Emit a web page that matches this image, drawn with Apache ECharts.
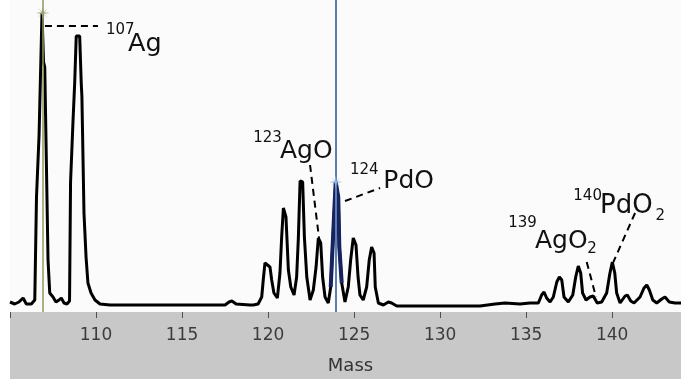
<!DOCTYPE html>
<html><head><meta charset="utf-8">
<script src="https://cdn.jsdelivr.net/npm/echarts@6/dist/echarts.min.js"></script>
<style>html,body{margin:0;padding:0;background:#ffffff}#c{width:681px;height:379px}</style>
</head><body><div id="c"></div>
<script>
// Spectrum (mass, intensity)
const masses = [105.0,105.27,105.52,105.76,105.95,106.24,106.44,106.48,106.54,106.63,106.69,106.77,106.86,106.95,107.02,107.11,107.21,107.31,107.38,107.50,107.67,107.85,107.98,108.14,108.31,108.46,
108.52,108.60,108.66,108.76,108.85,109.05,109.14,109.18,109.30,109.42,109.53,109.71,109.94,110.23,110.81,111.97,116.04,117.5,117.73,117.9,118.14,118.95,119.14,119.42,
119.63,119.73,119.82,120.11,120.21,120.34,120.54,120.69,120.79,120.89,121.04,121.18,121.32,121.51,121.66,121.76,121.86,122.01,122.11,122.25,122.44,122.63,122.79,122.92,123.06,123.17,123.31,123.50,
123.64,123.76,123.83,123.93,124.08,124.14,124.28,124.47,124.66,124.80,124.95,125.11,125.23,125.34,125.53,125.73,125.88,126.02,126.16,126.23,126.41,126.70,126.99,127.18,127.48,
132.32,133.19,133.77,134.64,135.22,135.71,135.90,136.04,136.19,136.39,136.58,136.78,136.93,137.07,137.20,137.45,137.71,137.88,138.03,138.17,138.28,138.48,138.71,138.90,139.13,139.39,139.68,139.87,140.01,140.15,140.26,140.46,140.75,140.88,141.08,141.27,141.62,141.85,142.01,142.16,142.36,142.59,142.88,143.07,143.32,143.65,144.0];
const intensities = [10,8,10,14,8,8,12,14,115,115,177,235,299,250,245,154,52,19,17,15,10,12,14,9,8,11,
130,130,190,229,276,276,229,215,99,55,29,19,12,8,7,7,7,7,10,11,8,7,7,8,
15,34,49,45,32,19,14,39,75,104,95,42,25,17,35,74,131,130,75,35,12,22,45,74,69,35,15,9,
25,69,95,130,115,65,29,10,25,52,74,67,35,17,12,25,52,65,59,25,9,7,10,9,6,
6,8,9,8,9,9,17,20,14,10,15,30,35,32,15,10,17,35,46,39,19,12,15,16,9,10,19,39,50,39,19,9,16,17,11,9,15,24,27,22,12,9,13,15,10,9,9];

const xTicks = [105,110,115,120,125,130,135,140];
const highlightRange = [123.55, 124.35];
const cursorMasses = [106.92, 123.95];
const starMasses = [106.9, 123.93];
const starInts = [299, 130];

const annoTexts = ['107','Ag','123','AgO','124','PdO','139','AgO','2','140','PdO','2'];
const annoMass  = [110.58,111.86,119.14,120.69,124.76,126.70,133.96,135.51,138.55,137.74,139.29,142.52];
const annoInt   = [282,268,174,161,142,131,89,71,63,115.5,106,95.5];
const annoSize  = [15,25.5,15,25,15,25,15,25,15,15,26,15];

const leaderFrom = [[107.03,286],[122.44,147],[124.47,111],[138.52,50],[141.33,99]];
const leaderTo   = [[110.11,286],[122.96,74],[126.51,124],[139.06,15],[140.07,50]];

const spectrum = masses.map((m,i)=>[m,intensities[i]]);
const highlight = spectrum.filter(p=>p[0]>=highlightRange[0]&&p[0]<=highlightRange[1]);

const starPath = 'path://M0,-7 L0.8,-0.8 L7,0 L0.8,0.8 L0,7 L-0.8,0.8 L-7,0 L-0.8,-0.8 Z M-5,-5 L0.5,-0.5 L5,-5 L0.5,0.5 L5,5 L-0.5,0.5 L-5,5 L-0.5,-0.5 Z';

const chart = echarts.init(document.getElementById('c'), null, {renderer:'canvas'});
chart.setOption({
  animation:false,
  backgroundColor:'#ffffff',
  graphic:[{type:'rect', z:-10, shape:{x:10,y:312,width:671,height:67}, style:{fill:'#c8c8c8'}}],
  grid:{left:10,right:0,top:0,bottom:67,containLabel:false,outerBoundsMode:'none',
    show:true,backgroundColor:'#fbfbfb',borderWidth:0},
  xAxis:{type:'value',min:105,max:144,interval:5,offset:4,
    axisLine:{show:false},
    axisTick:{show:true,length:6,lineStyle:{color:'#505050',width:1},customValues:xTicks},
    axisLabel:{margin:11,fontFamily:'DejaVu Sans',fontSize:17,color:'#3c3c3c',
      formatter:v=>(xTicks.indexOf(v)>0?String(v):'')},
    splitLine:{show:false},
    name:'Mass',nameLocation:'middle',nameGap:41,
    nameTextStyle:{fontFamily:'DejaVu Sans',fontSize:18,color:'#333333',padding:[0,0,0,10]}},
  yAxis:{type:'value',min:0,max:312,show:false,splitLine:{show:false}},
  series:[
    {type:'line',data:spectrum,showSymbol:false,symbol:'none',
     lineStyle:{color:'#000000',width:3},z:3,
     markLine:{silent:true,symbol:['none','none'],label:{show:false},
       data:[
         {xAxis:cursorMasses[0],lineStyle:{color:'#8f9a5a',width:1.5,type:'solid'}},
         {xAxis:cursorMasses[1],lineStyle:{color:'#5b7fb5',width:2,type:'solid'}},
         ...leaderFrom.map((f,i)=>[{coord:f,lineStyle:{color:'#000',width:2,type:[7,5]}},{coord:leaderTo[i]}])
       ]},
     markPoint:{silent:true,
       data:[
         ...starMasses.map((m,i)=>({coord:[m,starInts[i]],symbol:starPath,symbolSize:14,
            itemStyle:{color:i===0?'#9aa070':'#8fb4dc'},label:{show:false}})),
         ...annoTexts.map((t,i)=>({coord:[annoMass[i],annoInt[i]],symbol:'circle',symbolSize:0,
            label:{show:true,position:'right',distance:0,formatter:t,fontFamily:'DejaVu Sans',
              fontSize:annoSize[i],color:'#111111'}}))
       ]}
    },
    {type:'line',data:highlight,showSymbol:false,symbol:'none',
     lineStyle:{color:'#17235e',width:4},z:4}
  ]
});
</script></body></html>
